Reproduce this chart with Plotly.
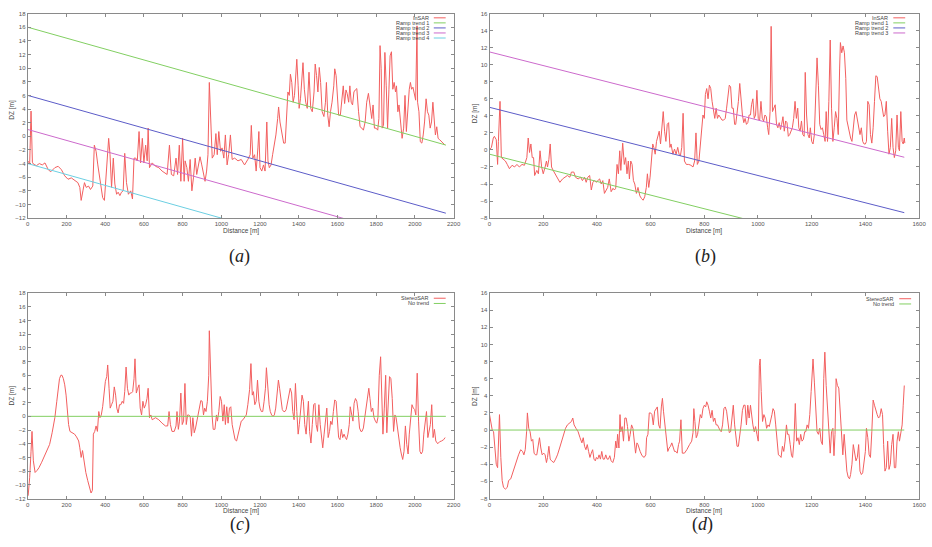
import plotly.graph_objects as go

W, H = 932, 547

# ---------------- (a) InSAR profile, long track ----------------
a_dist = [
    0, 10, 17, 24, 30, 45, 60, 75, 89, 106,
    119, 140, 157, 174, 191, 208, 225, 242, 259, 269,
    276, 285, 293, 302, 314, 324, 336, 344, 353, 362,
    370, 379, 387, 396, 404, 413, 418, 425, 433, 442,
    450, 459, 467, 476, 484, 493, 501, 510, 520, 532,
    541, 549, 558, 566, 575, 583, 592, 600, 609, 617,
    622, 629, 643, 660, 677, 694, 711, 720, 732, 742,
    754, 766, 774, 783, 791, 800, 808, 813, 822, 830,
    839, 848, 856, 865, 873, 882, 890, 899, 907, 916,
    924, 931, 938, 945, 953, 963, 972, 979, 987, 996,
    1004, 1013, 1021, 1030, 1038, 1047, 1056, 1069, 1086, 1103,
    1120, 1137, 1149, 1155, 1163, 1172, 1180, 1189, 1194, 1200,
    1209, 1218, 1226, 1235, 1241, 1248, 1257, 1265, 1274, 1282,
    1291, 1296, 1303, 1313, 1322, 1330, 1337, 1344, 1351, 1357,
    1364, 1371, 1378, 1385, 1390, 1397, 1402, 1409, 1415, 1422,
    1429, 1436, 1444, 1453, 1462, 1470, 1479, 1485, 1492, 1499,
    1506, 1513, 1521, 1530, 1538, 1543, 1550, 1557, 1564, 1572,
    1581, 1586, 1593, 1600, 1606, 1615, 1623, 1630, 1637, 1644,
    1650, 1658, 1664, 1671, 1678, 1685, 1692, 1700, 1709, 1717,
    1726, 1734, 1743, 1751, 1760, 1769, 1777, 1784, 1791, 1799,
    1808, 1814, 1820, 1826, 1831, 1838, 1845, 1852, 1859, 1866,
    1872, 1879, 1886, 1893, 1900, 1905, 1912, 1918, 1925, 1934,
    1942, 1949, 1956, 1965, 1971, 1977, 1983, 1990, 1997, 2004,
    2011, 2014, 2021, 2028, 2036, 2043, 2050, 2058, 2065, 2072,
    2079, 2086, 2093, 2099, 2106, 2113, 2120, 2128, 2138, 2149,
    2156,
]
a_dz = [
    -3.6, -4.0, 3.7, -3.8, -4.1, -4.3, -4.0, -4.2, -3.9, -4.9,
    -5.2, -4.6, -4.4, -4.9, -5.8, -6.3, -6.1, -6.5, -6.8, -7.5,
    -9.4, -8.0, -6.8, -7.5, -7.3, -7.8, -7.3, -1.3, -2.2, -4.2,
    -5.6, -7.5, -9.0, -9.4, -6.1, -2.2, -0.3, -2.7, -7.5, -3.2,
    -7.0, -8.5, -8.2, -8.7, -8.2, -8.0, -2.5, -6.8, -8.5, -8.0,
    -9.2, -3.2, -3.2, -3.6, 0.7, -3.9, -0.3, -3.9, -1.3, -3.6,
    1.2, -4.6, -3.9, -4.4, -4.6, -5.1, -5.4, -5.6, -1.3, -5.6,
    -5.8, -3.2, -5.6, -1.3, -6.6, -0.3, -6.6, -3.6, -4.6, -6.6,
    -3.4, -8.0, -6.1, -3.2, -5.6, -4.2, -3.0, -4.2, -5.6, -6.6,
    -5.1, -2.7, 7.9, 2.1, -3.2, -2.7, 0.4, -2.7, 0.7, -2.2,
    -1.7, -3.2, 0.2, -4.2, -2.7, 0.2, -3.4, -3.2, -3.6, -3.4,
    -4.2, -3.4, -2.7, 1.6, -3.2, -2.7, -5.1, -1.7, 0.7, -4.6,
    -5.1, -4.2, -5.1, 2.1, -3.6, -4.6, -4.2, -2.7, -1.3, 0.2,
    2.6, 4.3, 2.1, 0.2, -1.0, -1.0, 2.1, 6.5, 6.0, 9.1,
    7.9, 5.0, 6.0, 9.1, 11.3, 7.4, 4.1, 5.5, 8.4, 10.8,
    6.9, 5.0, 4.1, 9.4, 4.1, 3.6, 6.5, 10.6, 8.9, 6.5,
    10.1, 7.9, 3.6, 2.9, 5.0, 7.9, 3.1, 1.4, 3.6, 5.0,
    7.4, 9.9, 8.9, 5.0, 3.1, 3.1, 5.8, 7.4, 4.8, 6.8,
    6.3, 5.0, 7.4, 5.0, 4.6, 6.5, 6.8, 7.0, 3.6, 1.4,
    1.2, 0.9, 2.1, 5.0, 6.3, 4.1, 2.6, 4.6, 1.2, 1.2,
    0.9, 2.6, 13.3, 9.9, 1.2, 1.6, 12.3, 7.4, 1.2, 6.9,
    11.8, 12.4, 6.9, 7.9, 6.5, 7.4, 3.6, 4.6, 2.6, -0.3,
    1.2, 6.0, 0.7, 4.6, 6.9, 7.9, 6.9, 7.2, 6.0, 5.3,
    16.2, 5.0, 3.6, -0.8, -1.0, 0.2, 2.1, 5.5, 3.6, 3.1,
    1.2, 2.1, 5.0, 2.1, 0.2, 1.4, -0.3, -0.5, -0.8, -1.0,
    -1.3,
]

# ---------------- (b) InSAR profile, short track ----------------
b_dist = [
    0, 7, 14, 18, 25, 30, 33, 39, 44, 52,
    59, 66, 74, 84, 93, 102, 111, 121, 130, 139,
    144, 149, 154, 159, 164, 168, 176, 182, 188, 194,
    200, 207, 212, 216, 221, 226, 231, 237, 244, 252,
    262, 272, 281, 290, 299, 305, 314, 320, 330, 339,
    346, 354, 360, 366, 373, 379, 385, 391, 397, 403,
    410, 416, 422, 428, 434, 440, 446, 453, 460, 465,
    470, 475, 480, 485, 489, 496, 502, 507, 512, 517,
    521, 526, 531, 536, 541, 547, 553, 560, 566, 572,
    578, 584, 588, 593, 598, 603, 608, 612, 617, 622,
    627, 632, 637, 642, 647, 652, 657, 662, 667, 672,
    676, 683, 689, 695, 701, 706, 711, 716, 721, 726,
    733, 742, 750, 758, 764, 769, 774, 780, 785, 790,
    795, 800, 804, 809, 814, 819, 824, 829, 834, 839,
    844, 849, 854, 860, 866, 872, 878, 883, 888, 893,
    898, 903, 908, 913, 917, 922, 927, 932, 937, 942,
    947, 952, 957, 962, 967, 972, 976, 981, 986, 991,
    996, 1001, 1006, 1011, 1016, 1021, 1026, 1031, 1036, 1040,
    1045, 1049, 1054, 1059, 1064, 1069, 1074, 1079, 1084, 1088,
    1093, 1098, 1103, 1108, 1113, 1118, 1123, 1128, 1133, 1138,
    1143, 1148, 1152, 1157, 1162, 1167, 1172, 1176, 1181, 1186,
    1191, 1195, 1200, 1205, 1210, 1215, 1220, 1225, 1230, 1235,
    1240, 1245, 1250, 1254, 1259, 1264, 1269, 1274, 1279, 1284,
    1289, 1294, 1299, 1304, 1307, 1312, 1317, 1322, 1327, 1331,
    1336, 1341, 1345, 1350, 1355, 1360, 1365, 1370, 1375, 1380,
    1385, 1390, 1395, 1400, 1404, 1409, 1414, 1419, 1424, 1429,
    1434, 1439, 1444, 1449, 1454, 1459, 1464, 1468, 1473, 1478,
    1483, 1488, 1493, 1498, 1503, 1508, 1513, 1518, 1523, 1527,
    1532, 1537, 1541, 1545, 1547,
]
b_dz = [
    0.0, 0.3, 1.4, 1.6, 1.2, -1.7, 1.0, 5.7, -0.9, -1.1,
    -1.3, -1.7, -2.2, -1.8, -2.0, -1.7, -2.0, -1.7, -1.8, -0.9,
    1.4, -0.3, 0.7, -0.9, -0.9, -3.0, -2.4, -2.8, -0.1, -2.0,
    -2.8, -2.0, -1.3, -2.0, -1.1, 0.7, -2.0, -2.4, -2.8, -3.2,
    -3.8, -3.4, -3.2, -3.0, -3.2, -2.6, -2.6, -3.2, -3.4, -3.2,
    -3.6, -3.2, -3.8, -3.2, -3.0, -4.7, -3.8, -3.6, -3.8, -3.6,
    -3.4, -4.0, -3.6, -5.1, -4.7, -4.4, -3.4, -4.9, -4.5, -4.7,
    -4.5, -1.7, -2.8, -0.1, -2.4, 0.8, -1.7, -0.9, -2.8, -1.3,
    -3.4, -1.3, -1.7, -3.6, -4.0, -5.1, -4.4, -5.4, -5.7, -5.9,
    -5.5, -4.4, -2.8, -4.4, -3.2, -0.9, 0.7, 0.3, -0.5, 1.0,
    1.8, 2.2, 0.7, 3.0, 4.5, 2.2, 1.0, 3.0, 3.2, 0.3,
    0.7, -0.5, 0.1, -0.5, 0.3, -0.5, -0.7, 0.3, 4.3, -1.3,
    -1.7, -1.7, -1.8, -2.0, -1.3, 2.0, -1.7, -1.3, 0.3, 1.8,
    4.1, 3.7, 6.5, 7.2, 6.0, 7.6, 7.2, 5.7, 4.5, 3.7,
    4.9, 3.7, 4.1, 3.7, 3.5, 3.5, 3.7, 4.9, 6.4, 7.6,
    7.4, 4.9, 4.9, 3.0, 3.0, 4.3, 5.7, 7.8, 5.7, 4.1,
    3.2, 3.7, 3.0, 3.2, 4.1, 4.1, 5.3, 6.0, 3.7, 4.1,
    7.0, 3.7, 3.4, 5.7, 3.7, 3.4, 4.1, 3.9, 2.6, 1.8,
    4.5, 14.5, 4.5, 4.9, 5.3, 3.0, 2.6, 3.2, 2.4, 3.0,
    3.9, 2.2, 3.4, 3.2, 1.6, 1.8, 2.2, 2.6, 3.7, 5.7,
    3.7, 4.9, 2.6, 2.2, 3.4, 1.8, 1.6, 9.1, 4.1, 1.8,
    1.4, 2.6, 1.0, 0.7, 1.8, 6.4, 10.8, 7.6, 3.0, 2.4,
    2.6, 1.8, 1.0, 4.5, 1.0, 5.7, 12.9, 4.9, 1.0, 2.6,
    4.5, 3.7, 1.8, 9.5, 12.6, 11.4, 12.2, 11.4, 8.4, 3.5,
    2.6, 2.2, 1.4, 1.0, 2.6, 4.1, 4.5, 3.4, 2.4, 1.8,
    2.6, 1.0, 0.7, 0.7, 1.0, 5.7, 5.3, 1.8, 0.8, 2.6,
    5.7, 8.7, 8.6, 6.8, 6.0, 5.7, 4.9, 3.9, 4.1, 5.7,
    2.2, -0.5, 0.3, 3.7, 0.3, -0.9, -0.1, 4.1, 0.3, -0.1,
    4.5, 1.0, 0.7, 1.4, 0.8,
]

# ---------------- (c) StereoSAR profile, long track ----------------
c_dist = [
    2, 10, 17, 22, 29, 38, 48, 58, 72, 85,
    99, 113, 126, 140, 150, 157, 164, 171, 177, 184,
    191, 198, 205, 211, 218, 229, 242, 252, 263, 269,
    276, 283, 290, 300, 310, 321, 327, 334, 339, 346,
    353, 360, 367, 373, 380, 387, 394, 401, 408, 413,
    420, 426, 433, 440, 447, 454, 460, 467, 474, 481,
    488, 495, 501, 508, 515, 522, 529, 535, 542, 549,
    554, 561, 568, 575, 581, 588, 595, 602, 609, 616,
    622, 629, 636, 643, 660, 677, 694, 711, 723, 730,
    737, 745, 757, 766, 771, 778, 784, 791, 798, 805,
    812, 819, 826, 832, 839, 846, 853, 860, 867, 873,
    880, 887, 894, 901, 908, 914, 921, 928, 935, 938,
    945, 952, 958, 967, 975, 980, 987, 994, 1001, 1008,
    1015, 1021, 1028, 1035, 1042, 1049, 1056, 1062, 1071, 1079,
    1088, 1095, 1103, 1112, 1120, 1129, 1137, 1146, 1153, 1160,
    1166, 1173, 1180, 1187, 1194, 1200, 1207, 1214, 1221, 1228,
    1233, 1240, 1247, 1253, 1260, 1267, 1274, 1281, 1288, 1295,
    1301, 1308, 1315, 1322, 1329, 1335, 1342, 1349, 1356, 1363,
    1369, 1376, 1383, 1390, 1397, 1403, 1410, 1417, 1424, 1431,
    1438, 1444, 1450, 1456, 1463, 1470, 1477, 1484, 1490, 1497,
    1504, 1511, 1518, 1524, 1531, 1538, 1545, 1552, 1559, 1565,
    1572, 1579, 1586, 1593, 1600, 1606, 1613, 1620, 1627, 1634,
    1641, 1647, 1654, 1661, 1666, 1673, 1680, 1686, 1693, 1700,
    1707, 1714, 1721, 1727, 1734, 1741, 1748, 1755, 1762, 1768,
    1775, 1782, 1789, 1796, 1803, 1809, 1816, 1823, 1828, 1835,
    1842, 1849, 1855, 1862, 1869, 1876, 1883, 1890, 1897, 1903,
    1910, 1917, 1924, 1930, 1937, 1944, 1951, 1958, 1965, 1971,
    1978, 1985, 1992, 1999, 2005, 2012, 2019, 2026, 2033, 2040,
    2046, 2053, 2060, 2067, 2074, 2080, 2087, 2094, 2101, 2108,
    2118, 2128, 2138, 2149, 2156,
]
c_dz = [
    -11.6, -8.9, -5.1, -2.2, -6.5, -8.2, -7.9, -7.5, -6.7, -5.9,
    -5.1, -4.1, -2.4, -0.2, 2.2, 4.1, 5.5, 6.0, 6.0, 5.5,
    4.6, 3.1, 0.7, -1.2, -2.2, -2.4, -2.6, -3.0, -3.6, -4.6,
    -6.0, -5.0, -6.7, -8.2, -9.4, -10.8, -11.2, -10.8, -2.6, -2.2,
    -1.4, -2.2, 0.7, -0.2, 0.2, 1.4, 3.1, 5.1, 5.8, 7.5,
    4.1, 1.2, 1.7, 2.2, 4.3, 3.1, 1.2, 0.5, 1.7, 1.7,
    2.2, 1.9, 3.6, 7.2, 4.1, 3.1, 3.4, 3.4, 3.6, 5.5,
    8.4, 3.4, 4.1, 4.6, 1.2, 0.2, 2.2, 1.2, 1.7, 2.6,
    4.1, -0.2, 0.2, -0.5, -0.2, -0.5, -1.0, -1.4, -1.4, 0.7,
    -1.2, -2.2, -2.2, -1.4, 0.7, -1.9, -0.7, 3.4, -1.2, -0.7,
    4.8, -1.2, 0.2, 0.2, 0.0, -2.9, -0.2, -2.4, -1.7, -0.7,
    0.2, 1.7, 2.3, 2.2, 0.2, 1.2, 0.7, 2.2, 6.0, 12.5,
    5.5, 0.2, -1.9, -1.9, 0.2, -0.7, 0.7, 2.9, 2.2, -0.7,
    1.7, -1.2, 1.4, -1.0, 1.2, 1.4, -1.2, -2.2, -3.4, -3.6,
    -2.6, -1.4, -0.7, -0.5, -0.2, 0.2, 1.7, 3.9, 7.7, 3.1,
    3.6, 1.7, 2.2, 5.3, 2.2, 1.2, 0.7, 0.7, 2.2, 4.1,
    7.1, 4.1, 1.7, 0.7, 0.2, 0.0, 0.2, 1.2, 3.6, 5.3,
    4.1, 2.2, 1.0, 0.7, 0.7, 1.0, 2.2, 3.4, 4.1, 3.4,
    0.7, -0.5, 4.8, 0.7, -2.6, -1.2, 0.7, 3.1, 2.2, -1.2,
    -2.6, -0.2, 2.2, -2.2, -3.9, -1.2, 1.7, 1.9, -1.2, -2.2,
    1.7, -1.2, -2.6, -4.6, -2.6, -0.7, 1.2, -3.1, -2.2, -0.7,
    -1.2, 0.7, 2.4, 2.2, -0.7, -3.1, -3.4, -1.9, -3.1, -2.6,
    -3.1, -3.4, -2.6, -1.2, 1.4, 0.2, -0.7, 1.9, 2.6, 2.2,
    0.7, -1.7, -2.2, -2.2, -1.7, -0.2, 1.2, 3.1, 4.1, 2.6,
    0.7, 1.2, -0.2, -0.7, -1.0, -0.2, 6.0, 8.7, 4.1, -2.6,
    1.2, 6.0, -2.4, 1.2, 5.8, 5.5, 2.6, -2.2, 0.2, -0.2,
    -1.7, -3.6, -4.6, -5.5, -6.3, -5.1, -1.4, -4.1, -5.5, -2.6,
    -0.2, 1.7, 1.2, 1.0, 0.2, 6.3, -0.7, -5.1, -5.5, -5.1,
    -2.6, -1.2, 0.7, -3.1, -2.2, -1.2, 1.7, -3.1, -1.9, -3.6,
    -4.0, -3.7, -3.6, -3.4, -3.1,
]

# ---------------- (d) StereoSAR profile, short track ----------------
d_dist = [
    0, 5, 10, 15, 20, 25, 30, 34, 37, 42,
    47, 52, 59, 66, 71, 79, 86, 93, 101, 108,
    116, 123, 128, 133, 138, 141, 146, 151, 156, 161,
    166, 171, 176, 181, 186, 191, 196, 202, 207, 212,
    216, 221, 226, 231, 239, 246, 253, 261, 268, 275,
    283, 290, 298, 305, 310, 315, 322, 330, 337, 344,
    349, 354, 359, 364, 369, 374, 379, 384, 389, 394,
    398, 403, 408, 413, 418, 423, 428, 433, 438, 443,
    448, 453, 459, 465, 470, 474, 477, 482, 486, 489,
    494, 499, 504, 509, 514, 519, 524, 529, 534, 539,
    544, 549, 553, 561, 568, 576, 582, 585, 590, 595,
    600, 605, 610, 615, 620, 625, 630, 635, 640, 644,
    648, 652, 656, 659, 664, 669, 674, 679, 684, 689,
    694, 699, 704, 708, 713, 718, 726, 735, 745, 753,
    758, 761, 765, 770, 775, 780, 785, 790, 795, 800,
    805, 809, 814, 819, 824, 829, 834, 839, 844, 849,
    854, 858, 863, 868, 873, 878, 883, 888, 893, 898,
    903, 908, 913, 918, 922, 927, 932, 937, 942, 947,
    952, 957, 962, 967, 972, 977, 981, 986, 991, 996,
    1001, 1005, 1008, 1012, 1017, 1022, 1027, 1032, 1037, 1042,
    1047, 1052, 1056, 1061, 1066, 1071, 1076, 1081, 1086, 1091,
    1096, 1101, 1106, 1110, 1115, 1120, 1125, 1129, 1134, 1139,
    1144, 1149, 1154, 1159, 1164, 1169, 1174, 1178, 1183, 1188,
    1193, 1198, 1200, 1205, 1210, 1215, 1220, 1225, 1230, 1235,
    1240, 1245, 1249, 1254, 1259, 1264, 1269, 1274, 1279, 1283,
    1287, 1291, 1296, 1301, 1306, 1311, 1316, 1321, 1326, 1331,
    1336, 1341, 1345, 1350, 1355, 1360, 1365, 1370, 1375, 1380,
    1385, 1390, 1395, 1400, 1404, 1409, 1414, 1419, 1424, 1429,
    1434, 1439, 1444, 1449, 1454, 1459, 1464, 1468, 1473, 1478,
    1483, 1488, 1493, 1498, 1503, 1508, 1513, 1518, 1523, 1527,
    1532, 1537, 1541, 1545,
]
d_dz = [
    1.8, 0.6, 0.0, -0.2, -2.1, -4.0, -4.4, 1.4, 1.8, -3.2,
    -5.9, -6.7, -6.9, -6.7, -5.9, -5.7, -5.0, -4.2, -3.4, -2.9,
    -2.3, -2.5, -2.9, -2.3, -0.2, 2.0, 0.2, -0.2, -1.3, -1.1,
    -2.7, -2.9, -2.9, -1.7, -0.9, -2.1, -2.9, -2.7, -2.9, -3.8,
    -3.2, -1.9, -3.4, -3.6, -3.8, -3.4, -2.9, -2.1, -1.3, -0.5,
    0.2, 0.6, 0.8, 1.0, 1.4, 0.6, 0.2, -0.2, -0.9, -1.5,
    -0.9, -1.9, -2.3, -1.7, -2.5, -3.2, -2.7, -2.3, -3.4, -3.6,
    -3.2, -3.4, -2.9, -3.4, -2.5, -3.4, -3.4, -2.9, -3.4, -3.4,
    -3.0, -3.6, -3.8, -3.2, -1.3, -2.1, -0.5, -2.1, 1.8, -0.2,
    0.4, -1.3, 1.4, 1.4, 0.4, -1.3, -0.5, 0.6, 0.2, -1.7,
    -2.7, -1.5, -1.7, -2.5, -3.0, -3.2, -2.9, -0.9, -0.5, 2.0,
    2.0, 1.8, 0.6, 2.2, 2.5, 2.7, 0.6, 0.2, 2.7, 3.7,
    2.2, 1.0, 0.6, -0.9, -2.5, -2.1, -1.9, -1.5, -2.1, -2.5,
    -2.5, -2.7, -1.7, -1.3, 1.2, -2.7, -2.7, -2.3, -1.7, -1.3,
    -0.3, 2.5, 1.0, -0.9, -0.5, 0.6, 1.8, 1.4, 2.5, 2.9,
    2.7, 3.3, 2.9, 2.2, 1.4, 2.3, 1.0, 1.4, 0.6, 0.6,
    0.2, 0.0, -0.2, 0.6, 2.5, 2.7, 2.2, 0.6, -0.3, -0.2,
    1.4, 2.9, 0.6, -1.3, -1.9, -1.9, -0.9, 0.6, 2.3, 2.9,
    2.9, 0.6, 2.9, 1.4, 2.9, 1.4, 0.6, -0.2, 0.4, -0.5,
    -1.3, 7.5, 8.3, 4.5, 1.0, 1.8, 1.4, 0.2, 0.6, 0.4,
    1.0, 1.8, 2.5, 2.2, 0.6, -1.7, -2.9, -3.0, -3.2, -1.9,
    -2.5, -1.3, 0.6, -0.5, -0.5, -1.7, -3.0, -3.2, -1.3, 3.1,
    -1.3, -0.9, -1.7, -0.5, -1.3, -1.1, -0.2, -0.2, 0.6, 0.2,
    1.8, 4.5, 5.6, 8.3, 5.6, 2.2, -0.2, -0.5, 0.2, -1.3,
    -1.7, 6.0, 9.1, 5.2, 2.2, 0.2, -2.7, -0.2, 0.2, -3.0,
    -0.5, 6.0, 5.2, 4.9, 2.2, -0.5, -2.9, -0.5, -3.2, -4.8,
    -5.5, -5.7, -5.2, -4.0, -1.7, -2.5, -3.6, -3.2, -1.7, -4.8,
    -5.2, -5.0, -4.0, -2.5, 0.2, -0.9, -2.9, -3.2, -0.2, 3.5,
    2.9, 2.2, 1.8, 1.4, 1.6, 2.5, 1.8, -1.7, -4.8, -4.4,
    -1.3, -4.6, -4.0, -1.7, -0.5, -4.4, -4.4, -1.3, -0.2, -1.3,
    -0.5, 0.6, 2.9, 5.2,
]

# Linear ramp trends: DZ = intercept + slope * distance
ramp_slope = -0.008
a_ramp_names = ["Ramp trend 1", "Ramp trend 2", "Ramp trend 3", "Ramp trend 4"]
a_ramp_intercepts = [16.0, 6.0, 1.0, -4.0]
a_track_end = 2160
b_ramp_names = ["Ramp trend 1", "Ramp trend 2", "Ramp trend 3"]
b_ramp_intercepts = [-0.5, 5.0, 11.5]
b_track_end = 1545
flat_level = 0.0

for xs, ys in [(a_dist, a_dz), (b_dist, b_dz), (c_dist, c_dz), (d_dist, d_dz)]:
    assert len(xs) == len(ys), (len(xs), len(ys))

RED = "#f25f5f"
GREEN = "#82cf62"
BLUE = "#5c5cc8"
MAGENTA = "#cc6acc"
CYAN = "#6ccfe2"
ramp_colors = [GREEN, BLUE, MAGENTA, CYAN]

# Subplot frames in pixels: left, top, right, bottom
boxes = {
    "a": (26, 10.7, 456, 217.5),
    "b": (492.3, 10.7, 926, 217.5),
    "c": (26, 293.3, 456, 501),
    "d": (492.3, 293.3, 926, 501),
}
axis_ids = {"a": "", "b": "2", "c": "3", "d": "4"}
x_ranges = {"a": [0, 2200], "b": [0, 1600], "c": [0, 2200], "d": [0, 1600]}
y_ranges = {"a": [-12, 18], "b": [-8, 16], "c": [-12, 18], "d": [-8, 16]}


def px(x):
    return x / W


def py(y):
    return 1 - y / H


fig = go.Figure()


def add_line(panel, xs, ys, color, name):
    k = axis_ids[panel]
    fig.add_trace(go.Scatter(
        x=xs, y=ys, mode="lines", name=name,
        line=dict(color=color, width=1),
        xaxis="x" + k, yaxis="y" + k, showlegend=False,
        hoverinfo="skip",
    ))


# (a)
add_line("a", a_dist, a_dz, RED, "InSAR")
for name, b0, col in zip(a_ramp_names, a_ramp_intercepts, ramp_colors):
    ends = [0, a_track_end]
    add_line("a", ends, [b0 + ramp_slope * e for e in ends], col, name)
# (b)
add_line("b", b_dist, b_dz, RED, "InSAR")
for name, b0, col in zip(b_ramp_names, b_ramp_intercepts, ramp_colors):
    ends = [0, b_track_end]
    add_line("b", ends, [b0 + ramp_slope * e for e in ends], col, name)
# (c)
add_line("c", c_dist, c_dz, RED, "StereoSAR")
add_line("c", [0, a_track_end], [flat_level, flat_level], GREEN, "No trend")
# (d)
add_line("d", d_dist, d_dz, RED, "StereoSAR")
add_line("d", [0, b_track_end], [flat_level, flat_level], GREEN, "No trend")

FRAME = "#8a8a8a"
TICKFONT = dict(family="Liberation Sans", size=6, color="#555555")
layout = dict(
    width=W, height=H,
    margin=dict(l=0, r=0, t=0, b=0),
    paper_bgcolor="white", plot_bgcolor="white",
    showlegend=False,
)
for p, (l, t, r, b) in boxes.items():
    k = axis_ids[p]
    common = dict(
        showline=True, linecolor=FRAME, linewidth=1, mirror="ticks",
        ticks="inside", ticklen=3, tickcolor=FRAME, tickwidth=1,
        showgrid=False, zeroline=False, tickfont=TICKFONT,
    )
    layout["xaxis" + k] = dict(
        common, domain=[px(l), px(r)], range=x_ranges[p], dtick=200,
        anchor="y" + k,
    )
    layout["yaxis" + k] = dict(
        common, domain=[py(b), py(t)], range=y_ranges[p], dtick=2,
        anchor="x" + k,
    )
fig.update_layout(**layout)

annotations = []
shapes = []
LABELFONT = dict(family="Liberation Sans", size=6.5, color="#444444")

# Axis titles
xlabel_y = {"a": 231, "b": 231, "c": 514, "d": 514}
ylabel_y = {"a": 108, "b": 111, "c": 397, "d": 397}
ylabel_x = {"a": 10, "b": 477, "c": 10, "d": 477}
for p, (l, t, r, b) in boxes.items():
    annotations.append(dict(
        text="Distance [m]", x=px((l + r) / 2), y=py(xlabel_y[p]),
        xref="paper", yref="paper", showarrow=False, font=LABELFONT,
        xanchor="center", yanchor="middle",
    ))
    annotations.append(dict(
        text="DZ [m]", x=px(ylabel_x[p]), y=py(ylabel_y[p]), textangle=-90,
        xref="paper", yref="paper", showarrow=False, font=LABELFONT,
        xanchor="center", yanchor="middle",
    ))

# Key boxes: right-aligned label followed by a short line sample
keys = {
    "a": (433, 15, 5.1, ["InSAR"] + a_ramp_names, [RED] + ramp_colors),
    "b": (897, 15, 5.1, ["InSAR"] + b_ramp_names, [RED] + ramp_colors[:3]),
    "c": (433, 298.5, 5.3, ["StereoSAR", "No trend"], [RED, GREEN]),
    "d": (903, 299, 5.3, ["StereoSAR", "No trend"], [RED, GREEN]),
}
for p, (tx, ty, step, names, cols) in keys.items():
    for i, (n, c) in enumerate(zip(names, cols)):
        yy = ty + i * step
        annotations.append(dict(
            text=n, x=px(tx), y=py(yy), xref="paper", yref="paper",
            showarrow=False, xanchor="right", yanchor="middle",
            font=dict(family="Liberation Sans", size=5.5, color="#444444"),
        ))
        shapes.append(dict(
            type="line", xref="paper", yref="paper",
            x0=px(tx + 3), x1=px(tx + 15), y0=py(yy), y1=py(yy),
            line=dict(color=c, width=1),
        ))

# Sub-figure captions
captions = {"a": (240, 256), "b": (710, 256), "c": (240, 527), "d": (707, 527)}
for p, (cx, cy) in captions.items():
    annotations.append(dict(
        text="(<i>%s</i>)" % p, x=px(cx), y=py(cy), xref="paper", yref="paper",
        showarrow=False, xanchor="center", yanchor="middle",
        font=dict(family="Liberation Serif", size=18, color="#222222"),
    ))

fig.update_layout(annotations=annotations, shapes=shapes)
fig.write_html("out.html")
